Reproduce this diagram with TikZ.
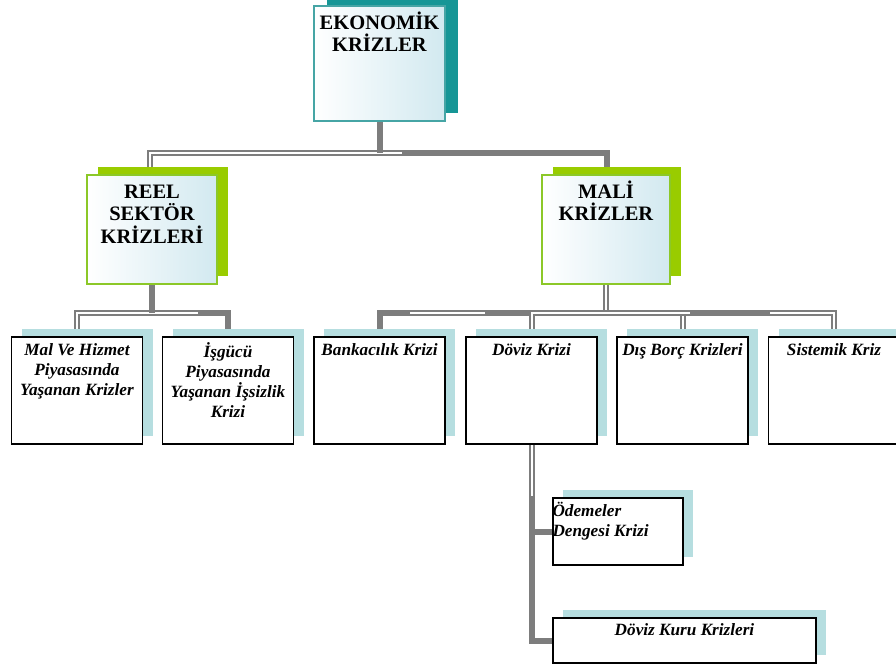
\documentclass[tikz,border=0pt]{standalone}
\usepackage{fontspec}
\setmainfont{Liberation Serif}
\usetikzlibrary{shadows}
\pgfdeclarelayer{background}
\pgfsetlayers{background,main}
\definecolor{tealdark}{RGB}{22,150,150}
\definecolor{tealborder}{RGB}{70,165,165}
\definecolor{greenshadow}{RGB}{153,204,0}
\definecolor{greenborder}{RGB}{140,200,40}
\definecolor{childshadow}{RGB}{182,222,224}
\definecolor{lightblue}{RGB}{210,233,240}
\definecolor{conngray}{RGB}{125,125,125}
\begin{document}
\begin{tikzpicture}[x=1pt,y=-1pt,
  basebox/.style={inner sep=0pt, left color=white, right color=lightblue},
  headbox/.style={basebox, draw=tealborder, line width=1.2pt,
    minimum width=131pt, minimum height=115pt,
    drop shadow={shadow xshift=13pt, shadow yshift=8pt, fill=tealdark, opacity=1}},
  greenbox/.style={basebox, draw=greenborder, line width=1.2pt,
    minimum width=130pt, minimum height=109pt,
    drop shadow={shadow xshift=11pt, shadow yshift=8pt, fill=greenshadow, opacity=1}},
  childbox/.style={inner sep=0pt, draw=black, fill=white, line width=1.4pt,
    minimum width=131pt, minimum height=107pt,
    drop shadow={shadow xshift=10pt, shadow yshift=8pt, fill=childshadow, opacity=1}},
  headtext/.style={anchor=north, inner sep=0pt, align=center,
    font=\fontsize{20.5}{22.5}\selectfont\bfseries},
  childtext/.style={anchor=north, inner sep=0pt, align=center,
    font=\fontsize{17.2}{20}\selectfont\bfseries\itshape},
  conn/.style={draw=conngray, line width=2pt, double=white, double distance=2pt},
  solidconn/.style={draw=conngray, line width=6pt}
]
\useasboundingbox (0,0) rectangle (896,666);

% level 0
\node[headbox] (ek) at (379.5,63.5) {};
\node[headtext] (ekt) at ([yshift=-6pt]ek.north) {EKONOMİK\\KRİZLER};

% level 1
\node[greenbox] (reel) at (152,229.5) {};
\node[headtext] (reelt) at ([yshift=-10pt]reel.north) {REEL\\SEKTÖR\\KRİZLERİ};
\node[greenbox, minimum width=128pt] (mali) at (606,229.5) {};
\node[headtext] (malit) at ([yshift=-6pt]mali.north) {MALİ\\KRİZLER};

% level 2
\node[childbox] (mal) at (77,390.5) {};
\node[childtext] (malt) at ([yshift=-7pt]mal.north) {Mal Ve Hizmet\\Piyasasında\\Yaşanan Krizler};
\node[childbox] (isg) at (228,390.5) {};
\node[childtext] (isgt) at ([yshift=-6pt]isg.north) {İşgücü\\Piyasasında\\Yaşanan İşsizlik\\Krizi};
\node[childbox] (bank) at (379.5,390.5) {};
\node[childtext] (bankt) at ([yshift=-7pt]bank.north) {Bankacılık Krizi};
\node[childbox] (doviz) at (531.5,390.5) {};
\node[childtext] (dovizt) at ([yshift=-7pt]doviz.north) {Döviz Krizi};
\node[childbox] (dis) at (682.5,390.5) {};
\node[childtext] (dist) at ([yshift=-7pt]dis.north) {Dış Borç Krizleri};
\node[childbox] (sis) at (834,390.5) {};
\node[childtext] (sist) at ([yshift=-7pt]sis.north) {Sistemik Kriz};

% level 3
\node[childbox, minimum width=130pt, minimum height=67pt] (odem) at (618,531.5) {};
\node[childtext, anchor=north west, align=left] (odemt) at ([yshift=-5pt]odem.north west) {Ödemeler\\Dengesi Krizi};
\node[childbox, minimum width=263pt, minimum height=45pt] (kuru) at (684.5,640.5) {};
\node[childtext] (kurut) at ([yshift=-6pt]kuru.north) {Döviz Kuru Krizleri};

\coordinate (j1) at (379.5,153);
\coordinate (j2) at (152,313);
\coordinate (j3) at (606,313);

\begin{pgfonlayer}{background}
  \draw[conn] (ek.south) -- (j1) -| ([xshift=-2pt]reel.north);
  \draw[conn] (j1) -| ([xshift=1pt]mali.north);
  \draw[conn] (reel.south) -- (j2) -| (mal.north);
  \draw[conn] (j2) -| (isg.north);
  \draw[conn] (mali.south) -- (j3) -| (bank.north);
  \draw[conn] (j3) -| (doviz.north);
  \draw[conn] (j3) -| (dis.north);
  \draw[conn] (j3) -| (sis.north);
  \draw[conn] (doviz.south) |- (odem.west);
  \draw[conn] (doviz.south) |- (kuru.west);
  % solid portions
  \draw[solidconn] (ek.south) -- (j1);
  \draw[solidconn] ([xshift=22pt]j1) -| ([xshift=1pt]mali.north);
  \draw[solidconn] (reel.south) -- (j2);
  \draw[solidconn] ([xshift=46pt]j2) -| (isg.north);
  \draw[solidconn] (bank.north) |- ([xshift=-196pt]j3);
  \draw[solidconn] ([xshift=-121pt]j3) -- ([xshift=-76pt]j3);
  \draw[solidconn] ([xshift=84pt]j3) -- ([xshift=164pt]j3);
  \draw[solidconn] ([yshift=-51pt]doviz.south) |- (kuru.west);
  \draw[solidconn] ([xshift=-22pt]odem.west) -- (odem.west);
\end{pgfonlayer}
\end{tikzpicture}
\end{document}
